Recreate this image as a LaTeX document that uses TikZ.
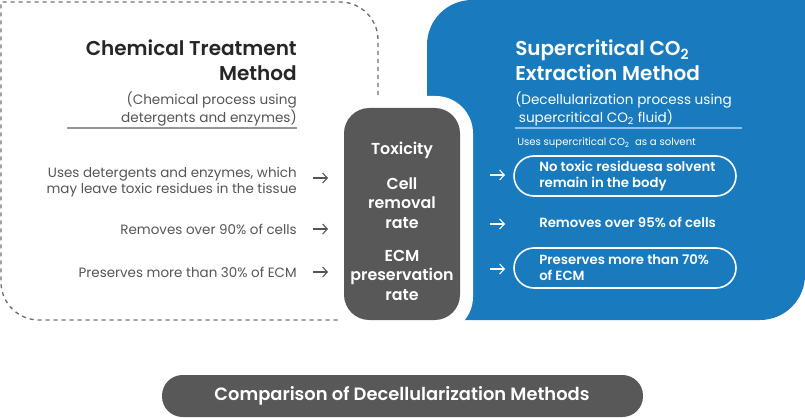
\documentclass[tikz,border=0pt]{standalone}
\usepackage{fontspec}
\setmainfont{Poppins}[BoldFont={* SemiBold}]
\usetikzlibrary{arrows.meta}
\definecolor{cblue}{RGB}{25,123,189}
\definecolor{cgray}{RGB}{88,88,88}
\definecolor{ctext}{RGB}{85,85,85}
\definecolor{cdash}{RGB}{110,110,110}
\definecolor{crule}{RGB}{150,150,150}
\definecolor{clight}{RGB}{140,192,232}

\begin{document}
\begin{tikzpicture}[x=0.75pt, y=-0.75pt,
	title/.style={inner sep=0pt, font=\fontsize{15}{18.5}\selectfont\bfseries},
	sub/.style={inner sep=0pt, font=\fontsize{10.2}{12}\selectfont},
	item/.style={inner sep=0pt, text=ctext, align=right, font=\fontsize{10.1}{12}\selectfont},
	crit/.style={inner sep=0pt, text=white, align=center, font=\fontsize{11.9}{14.6}\selectfont\bfseries},
	good/.style={inner sep=0pt, text=white, align=left, font=\fontsize{9.95}{12}\selectfont\bfseries},
	pill/.style={draw=white, line width=1.2pt, rounded corners=15pt},
	arr/.style={-{Straight Barb[length=3.5pt,width=7.5pt]}, line width=0.8pt}]
	\useasboundingbox (0,0) rectangle (805,417);
	% left panel, dashed outline
	\draw[cdash, line width=1pt, dash pattern=on 3pt off 3pt] (378,95) -- (378,40) arc[start angle=0, end angle=90, radius=28.5pt] -- (1,2) -- (1,282) arc[start angle=180, end angle=270, radius=28.5pt] -- (338,320);
	% right panel
	\fill[cblue] (427,320) -- (427,45) arc[start angle=180, end angle=90, radius=33.75pt] -- (805,0) -- (805,275) arc[start angle=0, end angle=-90, radius=33.75pt] -- cycle;
	\fill[white, rounded corners=28pt] (332,96) rectangle (473,334);
	\fill[cgray, rounded corners=19pt] (344,108) rectangle (460,320);

	% chemical side
	\node[title, text=black!85, align=right, anchor=east] (chemtitle) at (297,60) {Chemical Treatment\\Method};
	\node[sub, text=ctext, align=right, anchor=east] (chemsub) at (297,109) {(Chemical process using\\detergents and enzymes)};
	\draw[crule, line width=0.8pt] (67,128) -- (297,128);
	\node[item, anchor=east] (chem1) at (297,182) {Uses detergents and enzymes, which\\may leave toxic residues in the tissue};
	\node[item, anchor=east] (chem2) at (297,229) {Removes over 90\% of cells};
	\node[item, anchor=east] (chem3) at (297,272) {Preserves more than 30\% of ECM};

	% criteria
	\node[crit] (tox) at (402,150) {Toxicity};
	\node[crit] (cell) at (402,203) {Cell\\removal\\rate};
	\node[crit] (ecm) at (402,275) {ECM\\preservation\\rate};

	% supercritical side
	\node[title, text=white, align=left, anchor=west] (scotitle) at (515,60) {Supercritical CO\textsubscript{2}\\Extraction Method};
	\node[sub, text=white, align=left, anchor=west] (scosub) at (515,109) {(Decellularization process using\\\ supercritical CO\textsubscript{2} fluid)};
	\draw[clight, line width=0.8pt] (515,128) -- (742,128);
	\node[inner sep=0pt, text=white, font=\fontsize{7.6}{9}\selectfont, anchor=west] (solvent) at (517,143) {Uses supercritical CO\textsubscript{2}\ \ as a solvent};
	\draw[pill] (514,156) rectangle (736,196);
	\node[good, anchor=west] (sco1) at (539,176) {No toxic residuesa solvent\\remain in the body};
	\node[good, anchor=west] (sco2) at (539,222) {Removes over 95\% of cells};
	\draw[pill] (514,248) rectangle (736,288);
	\node[good, anchor=west] (sco3) at (539,268) {Preserves more than 70\%\\of ECM};

	% arrows
	\foreach \n/\yl/\yr in {1/178/175, 2/229/224, 3/272/269} {
		\coordinate (la\n) at (313,\yl);
		\coordinate (lb\n) at (328,\yl);
		\coordinate (ra\n) at (490,\yr);
		\coordinate (rb\n) at (505,\yr);
		\draw[arr, ctext] (la\n) -- (lb\n);
		\draw[arr, white] (ra\n) -- (rb\n);
	}

	% caption
	\fill[cgray, rounded corners=15.5pt] (162,375) rectangle (643,417);
	\node[inner sep=0pt, text=white, font=\fontsize{13.4}{15}\selectfont\bfseries] (caption) at (402,396) {Comparison of Decellularization Methods};
\end{tikzpicture}
\end{document}
